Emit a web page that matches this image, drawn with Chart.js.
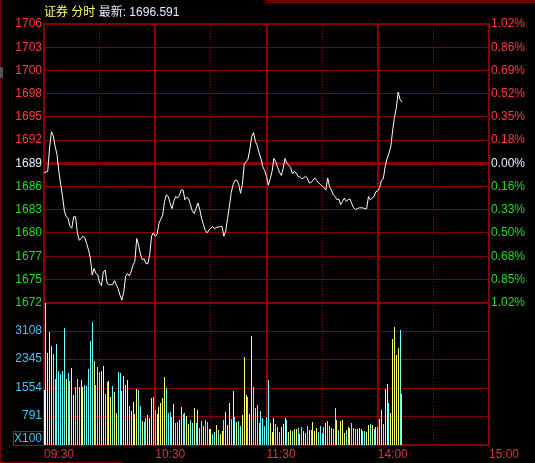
<!DOCTYPE html>
<html lang="zh-CN">
<head>
<meta charset="UTF-8">
<title>证券 分时</title>
<script src="https://cdn.jsdelivr.net/npm/chart.js"></script>
<style>
    html, body { margin: 0; padding: 0; background: #000; }
    #wrap { position: relative; width: 535px; height: 463px; background: #000; }
    #c { display: block; }
    #title { position: absolute; left: 44px; top: 4px; font: 12px "Liberation Sans", "Noto Sans CJK SC", sans-serif; line-height: 16px; white-space: pre; }
    #title .name { color: #ffff66; }
    #title .last { color: #e4f0ff; }
</style>
</head>
<body>
<div id="wrap">
    <canvas id="c" width="535" height="463"></canvas>
    <div id="title"><span class="name">证券 分时</span> <span class="last">最新: 1696.591</span></div>
</div>
<script>
// --- data ---
const prevClose = 1689.0;
const priceStep = 2.87;
const priceTicks = ['1672','1675','1677','1680','1683','1686','1689','1692','1695','1698','1700','1703','1706'];
const pctTicks = ['1.02%','0.85%','0.68%','0.50%','0.33%','0.16%','0.00%','0.18%','0.35%','0.52%','0.69%','0.86%','1.02%'];
const volTicks = [791, 1554, 2345, 3108];
const volMax = 3885;
const timeTicks = [0, 30, 60, 90, 120, 150, 180, 210, 240];
const timeLabels = ['09:30', '', '10:30', '', '11:30', '', '14:00', '', '15:00'];

// one value per minute from 09:30
const price = [
    1687.9, 1687.9, 1688.0, 1690.9, 1692.9, 1692.4, 1691.1, 1690.1, 1688.0, 1686.4,
    1684.9, 1683.1, 1682.4, 1682.2, 1681.2, 1681.0, 1682.4, 1682.4, 1680.4, 1679.5,
    1679.7, 1680.0, 1679.8, 1679.1, 1678.3, 1677.3, 1675.2, 1676.0, 1675.4, 1675.2,
    1674.2, 1673.9, 1675.6, 1675.8, 1674.2, 1674.0, 1674.0, 1674.0, 1674.5, 1674.0,
    1673.5, 1672.7, 1672.1, 1673.1, 1675.0, 1675.4, 1675.1, 1675.6, 1676.4, 1676.9,
    1679.7, 1678.9, 1677.8, 1677.1, 1677.2, 1676.6, 1676.6, 1677.7, 1680.0, 1680.4,
    1680.0, 1680.2, 1681.6, 1682.1, 1682.6, 1684.3, 1685.1, 1684.9, 1684.1, 1683.4,
    1684.3, 1684.9, 1684.7, 1685.0, 1685.7, 1685.7, 1684.5, 1684.8, 1684.6, 1683.9,
    1683.1, 1682.8, 1683.4, 1684.1, 1683.3, 1682.2, 1681.4, 1680.7, 1680.4, 1680.8,
    1681.0, 1681.2, 1680.9, 1681.1, 1681.1, 1681.2, 1681.2, 1680.0, 1680.6, 1682.2,
    1683.7, 1685.4, 1686.4, 1686.9, 1686.9, 1686.4, 1685.3, 1686.4, 1688.9, 1689.2,
    1689.5, 1690.7, 1692.3, 1692.8, 1691.7, 1691.2, 1690.3, 1689.6, 1688.6, 1688.1,
    1687.4, 1686.3, 1687.1, 1688.0, 1689.6, 1689.2, 1688.5, 1687.9, 1687.5, 1688.4,
    1689.6, 1689.0, 1688.8, 1688.5, 1687.7, 1688.0, 1687.8, 1687.4, 1687.3, 1687.1,
    1687.2, 1687.4, 1687.2, 1686.6, 1686.6, 1686.9, 1687.2, 1686.9, 1686.6, 1686.4,
    1686.2, 1686.0, 1685.7, 1687.2, 1686.1, 1685.7, 1685.1, 1684.9, 1684.5, 1684.6,
    1683.9, 1684.3, 1684.7, 1684.3, 1684.5, 1684.6, 1684.0, 1683.5, 1683.3, 1683.4,
    1683.5, 1683.5, 1683.5, 1683.4, 1683.4, 1684.9, 1684.5, 1684.7, 1684.9, 1685.5,
    1685.6, 1686.0, 1686.9, 1687.1, 1688.6, 1689.6, 1690.2, 1691.0, 1693.0, 1694.7,
    1695.8, 1697.8, 1696.9, 1696.59
];

// volume in units of 100
const volume = [
    1505, 3880, 2508, 3083, 2709, 2481, 1806, 2754, 2025, 1943,
    2025, 3192, 1806, 1961, 1751, 2098, 1368, 1587, 1806, 1587,
    1778, 1587, 1642, 1614, 2079, 2845, 3356, 2298, 1642, 2134,
    1988, 2025, 2161, 1395, 1715, 1751, 1313, 1614, 1441, 866,
    1997, 1961, 1477, 1888, 1642, 1778, 1067, 930, 1176, 848,
    1532, 1505, 1067, 657, 638, 730, 821, 730, 1286, 1313,
    948, 848, 1040, 1149, 1286, 1860, 1560, 866, 903, 766,
    1122, 602, 629, 684, 1040, 848, 876, 784, 575, 675,
    602, 1012, 602, 958, 465, 657, 520, 684, 629, 438,
    438, 301, 356, 547, 410, 301, 383,
    684, 903, 547, 1149, 711, 1477, 766, 629, 657, 520,
    821, 2408, 1368, 1313, 848, 2982, 1587, 1012, 1094, 602,
    930, 739, 520, 766, 1778, 602, 356, 739, 575, 492,
    356, 492, 575, 739, 684, 356, 410, 383, 438, 438,
    465, 301, 492, 383, 328, 520, 410, 410, 629, 383,
    465, 356, 520, 328, 492, 602, 657, 520, 465, 438,
    1012, 684, 410, 657, 684, 328, 410, 492, 465, 602,
    465, 438, 438, 465, 438, 383, 383, 356, 547, 575,
    547, 438, 492, 492, 711, 958, 575, 1532, 1669, 1149,
    876, 2900, 3228, 2462, 2654, 3146, 1395
];

// 1 = up minute, -1 = down minute, 0 = opening
const volDir = [
    0, 1, 1, 1, 1, -1, -1, -1, -1, -1,
    -1, -1, 1, -1, -1, 1, 1, -1, -1, -1,
    1, 1, -1, -1, -1, -1, -1, 1, -1, -1,
    -1, 1, 1, -1, -1, 1, 1, -1, 1, 1,
    -1, -1, 1, 1, 1, 1, -1, 1, 1, 1,
    1, -1, -1, 1, -1, -1, 1, 1, 1, -1,
    -1, 1, 1, 1, 1, 1, -1, -1, -1, -1,
    1, -1, -1, 1, 1, -1, -1, 1, 1, -1,
    -1, 1, -1, 1, -1, -1, 1, -1, -1, 1,
    1, -1, -1, 1, -1, 1, 1,
    -1, 1, 1, 1, -1, 1, -1, 1, -1, -1,
    1, 1, 1, -1, 1, 1, -1, -1, -1, -1,
    -1, -1, -1, -1, -1, 1, 1, 1, -1, -1,
    -1, 1, 1, 1, -1, 1, 1, -1, 1, 1,
    -1, 1, -1, 1, 1, -1, 1, -1, 1, 1,
    1, -1, -1, -1, -1, 1, -1, -1, 1, -1,
    -1, 1, -1, 1, 1, 1, -1, 1, 1, -1,
    -1, -1, 1, 1, 1, -1, -1, 1, 1, -1,
    1, -1, 1, -1, 1, 1, -1, 1, 1, -1,
    1, 1, 1, 1, 1, -1, 1
];

// --- styles ---
const GRID = '#880000';
const RED = '#ff3c3c';
const GREEN = '#22dd22';
const WHITE = '#e4f0ff';
const CYAN_TXT = '#40c8f0';
const BAR_UP = '#ffff66';
const BAR_DN = '#66ffff';
const FONT = { family: '"Liberation Sans", Arial, sans-serif', size: 12 };

function levelColor(i) {
    return i < 6 ? GREEN : (i === 6 ? WHITE : RED);
}

// keep the 1px volume bars on whole pixels
const crispBars = {
    id: 'crispBars',
    beforeDatasetsDraw(chart) {
        chart.getDatasetMeta(1).data.forEach(b => {
            b.x = Math.floor(b.x) + 0.5;
            b.y = Math.round(b.y);
        });
    }
};

const extras = {
    id: 'extras',
    afterDraw(chart) {
        const ctx = chart.ctx;
        ctx.save();
        // "X100" unit label in the volume axis
        ctx.strokeStyle = '#c00000';
        ctx.lineWidth = 1;
        ctx.strokeRect(13.5, 431.5, 30, 14);
        ctx.fillStyle = CYAN_TXT;
        ctx.font = '12px "Liberation Sans", Arial, sans-serif';
        ctx.textAlign = 'right';
        ctx.textBaseline = 'middle';
        ctx.fillText('X100', 42, 439);
        // window frame bits
        ctx.fillStyle = '#800000';
        ctx.fillRect(0, 0, 1, 463);
        ctx.fillRect(265, 0, 270, 1);
        ctx.fillRect(265, 2, 270, 1);
        ctx.fillRect(0, 462, 123, 1);
        ctx.fillStyle = '#555';
        ctx.fillRect(0, 67, 3, 11);
        ctx.restore();
    }
};

new Chart(document.getElementById('c'), {
    type: 'line',
    data: {
        datasets: [
            {
                type: 'line',
                data: price.map((v, i) => ({ x: i, y: v })),
                xAxisID: 'x',
                yAxisID: 'y',
                borderColor: '#ffffff',
                borderWidth: 1,
                pointRadius: 0,
                tension: 0
            },
            {
                type: 'bar',
                data: volume.map((v, i) => ({ x: i, y: v })),
                xAxisID: 'x',
                yAxisID: 'yv',
                backgroundColor: volDir.map(d => d > 0 ? BAR_UP : (d < 0 ? BAR_DN : '#ffffff')),
                borderWidth: 0,
                barThickness: 1,
                inflateAmount: 0
            }
        ]
    },
    options: {
        responsive: false,
        animation: false,
        events: [],
        layout: { padding: { top: 24, left: 0, right: 0, bottom: 0 } },
        plugins: { legend: { display: false }, tooltip: { enabled: false } },
        scales: {
            x: {
                type: 'linear',
                min: 0,
                max: 240,
                offset: false,
                afterBuildTicks: s => { s.ticks = timeTicks.map(v => ({ value: v })); },
                afterFit: s => { s.height = 18; },
                ticks: {
                    autoSkip: false,
                    maxRotation: 0,
                    align: 'start',
                    padding: 2,
                    color: '#e03434',
                    font: FONT,
                    callback: (v, i) => timeLabels[i]
                },
                grid: {
                    offset: false,
                    color: GRID,
                    drawTicks: false,
                    lineWidth: c => (c.tick && c.tick.value % 60 === 0) ? 2 : 1
                },
                border: {
                    color: GRID,
                    width: 2,
                    dash: c => (c.tick && c.tick.value % 60 !== 0) ? [1, 2] : []
                }
            },
            y: {
                type: 'linear',
                position: 'left',
                stack: 'L',
                stackWeight: 278,
                weight: 2,
                min: prevClose - 6 * priceStep,
                max: prevClose + 6 * priceStep,
                afterBuildTicks: s => { s.ticks = priceTicks.map((t, i) => ({ value: prevClose + (i - 6) * priceStep })); },
                afterFit: s => { s.width = 44; },
                ticks: {
                    autoSkip: false,
                    padding: 2,
                    font: FONT,
                    color: c => levelColor(c.index),
                    callback: (v, i) => priceTicks[i]
                },
                grid: {
                    color: GRID,
                    drawTicks: false,
                    lineWidth: c => c.index === 6 ? 3 : ((c.index === 0 || c.index === 12) ? 2 : 1)
                },
                border: { color: GRID, width: 2 }
            },
            yv: {
                type: 'linear',
                position: 'left',
                stack: 'L',
                stackWeight: 142,
                weight: 1,
                min: 0,
                max: volMax,
                afterBuildTicks: s => { s.ticks = volTicks.map(v => ({ value: v })); },
                afterFit: s => { s.width = 44; },
                ticks: {
                    autoSkip: false,
                    padding: 2,
                    font: FONT,
                    color: CYAN_TXT,
                    callback: v => String(v)
                },
                grid: { color: GRID, drawTicks: false, lineWidth: 1 },
                border: { color: GRID, width: 2 }
            },
            yr: {
                type: 'linear',
                position: 'right',
                stack: 'R',
                stackWeight: 278,
                weight: 1,
                min: prevClose - 6 * priceStep,
                max: prevClose + 6 * priceStep,
                afterBuildTicks: s => { s.ticks = pctTicks.map((t, i) => ({ value: prevClose + (i - 6) * priceStep })); },
                afterFit: s => { s.width = 46; },
                ticks: {
                    autoSkip: false,
                    padding: 2,
                    font: FONT,
                    color: c => levelColor(c.index),
                    callback: (v, i) => pctTicks[i]
                },
                grid: { drawOnChartArea: false, drawTicks: false },
                border: { color: GRID, width: 2 }
            },
            yvr: {
                type: 'linear',
                position: 'right',
                stack: 'R',
                stackWeight: 142,
                weight: 2,
                min: 0,
                max: volMax,
                afterFit: s => { s.width = 46; },
                ticks: { display: false },
                grid: { drawOnChartArea: false, drawTicks: false },
                border: { color: GRID, width: 2 }
            }
        }
    },
    plugins: [crispBars, extras]
});
</script>
</body>
</html>
